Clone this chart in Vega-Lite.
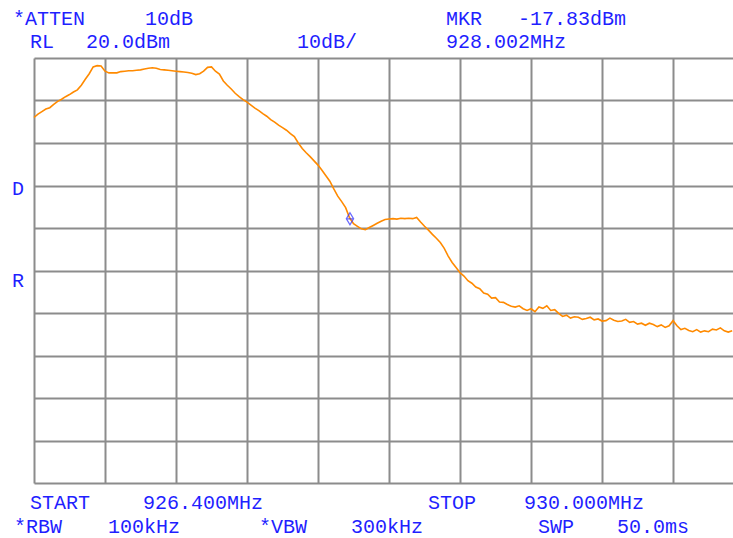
{
  "$schema": "https://vega.github.io/schema/vega-lite/v6.json",
  "autosize": {"type": "none"},
  "width": 699,
  "height": 425,
  "padding": {"left": 34, "top": 58, "right": 0, "bottom": 55},
  "background": "white",
  "config": {
    "view": {"stroke": null},
    "text": {"font": "Liberation Mono", "fontSize": 20, "color": "#1f1fff", "align": "left", "baseline": "alphabetic"}
  },
  "datasets": {
    "trace": [
      {"f": 926.40, "dbm": 6.0}, {"f": 926.42, "dbm": 6.8}, {"f": 926.44, "dbm": 7.4}, {"f": 926.46, "dbm": 8.0},
      {"f": 926.48, "dbm": 8.3}, {"f": 926.50, "dbm": 9.1}, {"f": 926.52, "dbm": 9.8}, {"f": 926.54, "dbm": 10.3},
      {"f": 926.56, "dbm": 10.9}, {"f": 926.58, "dbm": 11.4}, {"f": 926.60, "dbm": 12.0}, {"f": 926.62, "dbm": 12.5},
      {"f": 926.64, "dbm": 13.6}, {"f": 926.66, "dbm": 15.0}, {"f": 926.68, "dbm": 16.3}, {"f": 926.70, "dbm": 17.9},
      {"f": 926.72, "dbm": 18.2}, {"f": 926.74, "dbm": 18.1}, {"f": 926.76, "dbm": 16.9}, {"f": 926.78, "dbm": 16.5},
      {"f": 926.80, "dbm": 16.5}, {"f": 926.82, "dbm": 16.5}, {"f": 926.84, "dbm": 16.8}, {"f": 926.86, "dbm": 16.9},
      {"f": 926.88, "dbm": 17.0}, {"f": 926.90, "dbm": 17.0}, {"f": 926.92, "dbm": 17.1}, {"f": 926.94, "dbm": 17.2},
      {"f": 926.96, "dbm": 17.4}, {"f": 926.98, "dbm": 17.6}, {"f": 927.00, "dbm": 17.7}, {"f": 927.02, "dbm": 17.6},
      {"f": 927.04, "dbm": 17.3}, {"f": 927.06, "dbm": 17.2}, {"f": 927.08, "dbm": 17.1}, {"f": 927.10, "dbm": 17.0},
      {"f": 927.12, "dbm": 16.9}, {"f": 927.14, "dbm": 16.8}, {"f": 927.16, "dbm": 16.7}, {"f": 927.18, "dbm": 16.6},
      {"f": 927.20, "dbm": 16.4}, {"f": 927.22, "dbm": 16.1}, {"f": 927.24, "dbm": 16.3}, {"f": 927.26, "dbm": 16.9},
      {"f": 927.28, "dbm": 17.8}, {"f": 927.30, "dbm": 17.9}, {"f": 927.32, "dbm": 16.9}, {"f": 927.34, "dbm": 16.2},
      {"f": 927.36, "dbm": 14.6}, {"f": 927.38, "dbm": 13.6}, {"f": 927.40, "dbm": 12.7}, {"f": 927.42, "dbm": 11.7},
      {"f": 927.44, "dbm": 10.9}, {"f": 927.46, "dbm": 10.2}, {"f": 927.48, "dbm": 9.6}, {"f": 927.50, "dbm": 8.9},
      {"f": 927.52, "dbm": 8.2}, {"f": 927.54, "dbm": 7.6}, {"f": 927.56, "dbm": 6.9}, {"f": 927.58, "dbm": 6.3},
      {"f": 927.60, "dbm": 5.5}, {"f": 927.62, "dbm": 4.9}, {"f": 927.64, "dbm": 4.2}, {"f": 927.66, "dbm": 3.6},
      {"f": 927.68, "dbm": 3.0}, {"f": 927.70, "dbm": 2.2}, {"f": 927.72, "dbm": 1.5}, {"f": 927.74, "dbm": 0.0},
      {"f": 927.76, "dbm": -1.3}, {"f": 927.78, "dbm": -2.3}, {"f": 927.80, "dbm": -3.2}, {"f": 927.82, "dbm": -4.2},
      {"f": 927.84, "dbm": -5.2}, {"f": 927.86, "dbm": -6.4}, {"f": 927.88, "dbm": -7.7}, {"f": 927.90, "dbm": -9.0},
      {"f": 927.92, "dbm": -10.8}, {"f": 927.94, "dbm": -12.5}, {"f": 927.96, "dbm": -13.8}, {"f": 927.98, "dbm": -15.2},
      {"f": 928.00, "dbm": -17.6}, {"f": 928.02, "dbm": -19.0}, {"f": 928.04, "dbm": -19.6}, {"f": 928.06, "dbm": -20.2},
      {"f": 928.08, "dbm": -20.4}, {"f": 928.10, "dbm": -19.9}, {"f": 928.12, "dbm": -19.4}, {"f": 928.14, "dbm": -18.9},
      {"f": 928.16, "dbm": -18.4}, {"f": 928.18, "dbm": -18.0}, {"f": 928.20, "dbm": -17.9}, {"f": 928.22, "dbm": -17.8},
      {"f": 928.24, "dbm": -17.9}, {"f": 928.26, "dbm": -17.7}, {"f": 928.28, "dbm": -17.8}, {"f": 928.30, "dbm": -17.7},
      {"f": 928.32, "dbm": -17.8}, {"f": 928.34, "dbm": -17.5}, {"f": 928.36, "dbm": -18.6}, {"f": 928.38, "dbm": -19.6},
      {"f": 928.40, "dbm": -20.5}, {"f": 928.42, "dbm": -21.5}, {"f": 928.44, "dbm": -22.4}, {"f": 928.46, "dbm": -23.4},
      {"f": 928.48, "dbm": -24.8}, {"f": 928.50, "dbm": -26.6}, {"f": 928.52, "dbm": -28.1}, {"f": 928.54, "dbm": -29.3},
      {"f": 928.56, "dbm": -30.5}, {"f": 928.58, "dbm": -31.3}, {"f": 928.60, "dbm": -32.4}, {"f": 928.62, "dbm": -33.0},
      {"f": 928.64, "dbm": -33.9}, {"f": 928.66, "dbm": -34.3}, {"f": 928.68, "dbm": -35.3}, {"f": 928.70, "dbm": -35.6},
      {"f": 928.72, "dbm": -36.5}, {"f": 928.74, "dbm": -36.4}, {"f": 928.76, "dbm": -37.4}, {"f": 928.78, "dbm": -37.5},
      {"f": 928.80, "dbm": -38.0}, {"f": 928.82, "dbm": -38.4}, {"f": 928.84, "dbm": -38.6}, {"f": 928.86, "dbm": -38.3},
      {"f": 928.88, "dbm": -39.0}, {"f": 928.90, "dbm": -39.4}, {"f": 928.92, "dbm": -39.0}, {"f": 928.94, "dbm": -39.7},
      {"f": 928.96, "dbm": -38.6}, {"f": 928.98, "dbm": -38.9}, {"f": 929.00, "dbm": -38.3}, {"f": 929.02, "dbm": -39.4},
      {"f": 929.04, "dbm": -39.2}, {"f": 929.06, "dbm": -40.1}, {"f": 929.08, "dbm": -40.8}, {"f": 929.10, "dbm": -40.5},
      {"f": 929.12, "dbm": -41.2}, {"f": 929.14, "dbm": -40.9}, {"f": 929.16, "dbm": -41.0}, {"f": 929.18, "dbm": -41.5},
      {"f": 929.20, "dbm": -41.3}, {"f": 929.22, "dbm": -41.0}, {"f": 929.24, "dbm": -41.6}, {"f": 929.26, "dbm": -41.4},
      {"f": 929.28, "dbm": -41.9}, {"f": 929.30, "dbm": -41.8}, {"f": 929.32, "dbm": -41.2}, {"f": 929.34, "dbm": -41.7},
      {"f": 929.36, "dbm": -42.0}, {"f": 929.38, "dbm": -41.9}, {"f": 929.40, "dbm": -41.5}, {"f": 929.42, "dbm": -42.2},
      {"f": 929.44, "dbm": -42.0}, {"f": 929.46, "dbm": -42.6}, {"f": 929.48, "dbm": -42.4}, {"f": 929.50, "dbm": -42.9},
      {"f": 929.52, "dbm": -42.4}, {"f": 929.54, "dbm": -42.7}, {"f": 929.56, "dbm": -43.2}, {"f": 929.58, "dbm": -42.8},
      {"f": 929.60, "dbm": -43.4}, {"f": 929.62, "dbm": -43.0}, {"f": 929.64, "dbm": -41.8}, {"f": 929.66, "dbm": -43.0},
      {"f": 929.68, "dbm": -43.9}, {"f": 929.70, "dbm": -43.6}, {"f": 929.72, "dbm": -44.1}, {"f": 929.74, "dbm": -44.4},
      {"f": 929.76, "dbm": -43.9}, {"f": 929.78, "dbm": -44.5}, {"f": 929.80, "dbm": -44.2}, {"f": 929.82, "dbm": -44.4},
      {"f": 929.84, "dbm": -43.8}, {"f": 929.86, "dbm": -44.0}, {"f": 929.88, "dbm": -43.5}, {"f": 929.90, "dbm": -44.2},
      {"f": 929.92, "dbm": -44.5}, {"f": 929.94, "dbm": -44.2}
    ],
    "marker": [{"f": 928.002, "dbm": -17.83}],
    "one": [{}]
  },
  "layer": [
    {
      "data": {"name": "trace"},
      "mark": {"type": "line", "color": "#ff8a00", "strokeWidth": 1.6},
      "encoding": {
        "x": {
          "field": "f", "type": "quantitative",
          "scale": {"domain": [926.4, 929.944], "nice": false, "zero": false},
          "axis": {
            "title": null, "labels": false, "ticks": false, "domain": false,
            "grid": true, "gridColor": "#8c8c8c", "gridWidth": 2, "gridOpacity": 1,
            "values": [926.40, 926.76, 927.12, 927.48, 927.84, 928.20, 928.56, 928.92, 929.28, 929.64]
          }
        },
        "y": {
          "field": "dbm", "type": "quantitative",
          "scale": {"domain": [-80, 20], "nice": false, "zero": false},
          "axis": {
            "title": null, "labels": false, "ticks": false, "domain": false,
            "grid": true, "gridColor": "#8c8c8c", "gridWidth": 2, "gridOpacity": 1,
            "values": [-80, -70, -60, -50, -40, -30, -20, -10, 0, 10, 20]
          }
        }
      }
    },
    {
      "data": {"name": "marker"},
      "mark": {"type": "point", "shape": "M0,-1L0.6,0L0,1L-0.6,0ZM-0.6,0H0.6", "size": 144, "filled": false, "stroke": "#2a2aff", "strokeWidth": 1.3},
      "encoding": {
        "x": {"field": "f", "type": "quantitative"},
        "y": {"field": "dbm", "type": "quantitative"}
      }
    },
    {"data": {"name": "one"}, "mark": {"type": "text", "text": "*ATTEN", "x": -21, "y": -33.5}},
    {"data": {"name": "one"}, "mark": {"type": "text", "text": "10dB", "x": 111, "y": -33.5}},
    {"data": {"name": "one"}, "mark": {"type": "text", "text": "MKR", "x": 412, "y": -33.5}},
    {"data": {"name": "one"}, "mark": {"type": "text", "text": "-17.83dBm", "x": 484, "y": -33.5}},
    {"data": {"name": "one"}, "mark": {"type": "text", "text": "RL", "x": -4, "y": -10}},
    {"data": {"name": "one"}, "mark": {"type": "text", "text": "20.0dBm", "x": 52, "y": -10}},
    {"data": {"name": "one"}, "mark": {"type": "text", "text": "10dB/", "x": 263, "y": -10}},
    {"data": {"name": "one"}, "mark": {"type": "text", "text": "928.002MHz", "x": 412, "y": -10}},
    {"data": {"name": "one"}, "mark": {"type": "text", "text": "D", "x": -22, "y": 137}},
    {"data": {"name": "one"}, "mark": {"type": "text", "text": "R", "x": -22, "y": 229}},
    {"data": {"name": "one"}, "mark": {"type": "text", "text": "START", "x": -4, "y": 451}},
    {"data": {"name": "one"}, "mark": {"type": "text", "text": "926.400MHz", "x": 109, "y": 451}},
    {"data": {"name": "one"}, "mark": {"type": "text", "text": "STOP", "x": 394, "y": 451}},
    {"data": {"name": "one"}, "mark": {"type": "text", "text": "930.000MHz", "x": 490, "y": 451}},
    {"data": {"name": "one"}, "mark": {"type": "text", "text": "*RBW", "x": -20, "y": 475}},
    {"data": {"name": "one"}, "mark": {"type": "text", "text": "100kHz", "x": 74, "y": 475}},
    {"data": {"name": "one"}, "mark": {"type": "text", "text": "*VBW", "x": 225, "y": 475}},
    {"data": {"name": "one"}, "mark": {"type": "text", "text": "300kHz", "x": 317, "y": 475}},
    {"data": {"name": "one"}, "mark": {"type": "text", "text": "SWP", "x": 504, "y": 475}},
    {"data": {"name": "one"}, "mark": {"type": "text", "text": "50.0ms", "x": 583, "y": 475}}
  ]
}
